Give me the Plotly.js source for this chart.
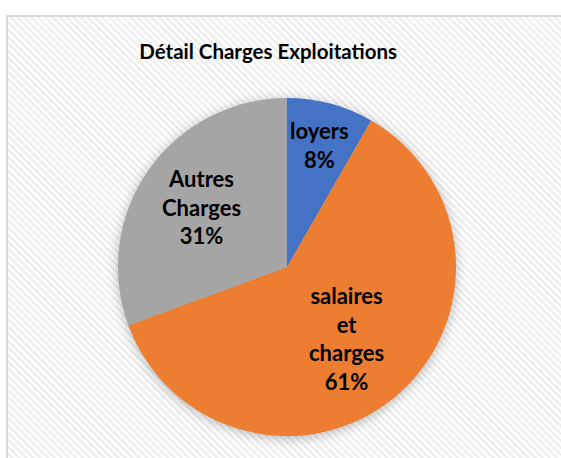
<!DOCTYPE html>
<html>
<head>
<meta charset="utf-8">
<script src="https://cdn.plot.ly/plotly-3.0.1.min.js"></script>
<style>
  html, body { margin: 0; padding: 0; background: #ffffff; }
  #frame {
    position: absolute; left: 6px; top: 15px; width: 570px; height: 460px;
    border: 2px solid #d9d9d9; box-sizing: border-box;
    background: repeating-linear-gradient(45deg, #ffffff 0px, #ffffff 2.5px, #efefef 2.5px, #efefef 5px);
  }
  #chart { position: absolute; left: 0; top: 0; width: 561px; height: 458px; }
  #chart .pielayer { filter: drop-shadow(0px 2px 6px rgba(0,0,0,0.28)); }
</style>
</head>
<body>
<div id="frame"></div>
<div id="chart"></div>
<script>
const categories = ["loyers", "salaires<br>et<br>charges", "Autres<br>Charges"];
const values = [8.3, 61.1, 30.6];
const colors = ["#4472C4", "#ED7D31", "#A5A5A5"];
const chartTitle = "Détail Charges Exploitations";

const W = 561, H = 458;
const dom = { x: [0.2103, 0.8128], y: [0.048, 0.786] };
const labelFont = { family: "Lato, 'Open Sans', sans-serif", size: 22, color: "#000000" };
const labelRadius = [0.75, 0.55, 0.62]; // fraction of pie radius for each label

const trace = {
  type: "pie",
  labels: categories,
  values: values,
  sort: false,
  direction: "clockwise",
  rotation: 0,
  marker: { colors: colors, line: { width: 0 } },
  textinfo: "none",
  hoverinfo: "none",
  domain: dom
};

// data labels placed at each slice's mid-angle (derived from the data)
const total = values.reduce((a, b) => a + b, 0);
const cx = (dom.x[0] + dom.x[1]) / 2, cy = (dom.y[0] + dom.y[1]) / 2;
const Rpx = (dom.x[1] - dom.x[0]) * W / 2;
let cum = 0;
const annotations = values.map((v, i) => {
  const mid = (cum + v / 2) / total;
  cum += v;
  const ang = mid * 2 * Math.PI;
  const rr = labelRadius[i] * Rpx;
  return {
    xref: "paper", yref: "paper",
    x: cx + rr * Math.sin(ang) / W,
    y: cy + rr * Math.cos(ang) / H,
    xanchor: "center", yanchor: "middle", showarrow: false,
    text: "<b>" + categories[i] + "<br>" + Math.round(v / total * 100) + "%</b>",
    font: labelFont
  };
});

const layout = {
  width: W, height: H,
  margin: { l: 0, r: 0, t: 0, b: 0 },
  paper_bgcolor: "rgba(0,0,0,0)",
  plot_bgcolor: "rgba(0,0,0,0)",
  showlegend: false,
  title: {
    text: "<b>" + chartTitle + "</b>",
    font: { family: "Lato, 'Open Sans', sans-serif", size: 20.5, color: "#000000" },
    x: 0.478, xanchor: "center", y: 0.887, yanchor: "middle"
  },
  annotations: annotations
};

Plotly.newPlot("chart", [trace], layout, { displayModeBar: false, staticPlot: true });
</script>
</body>
</html>
